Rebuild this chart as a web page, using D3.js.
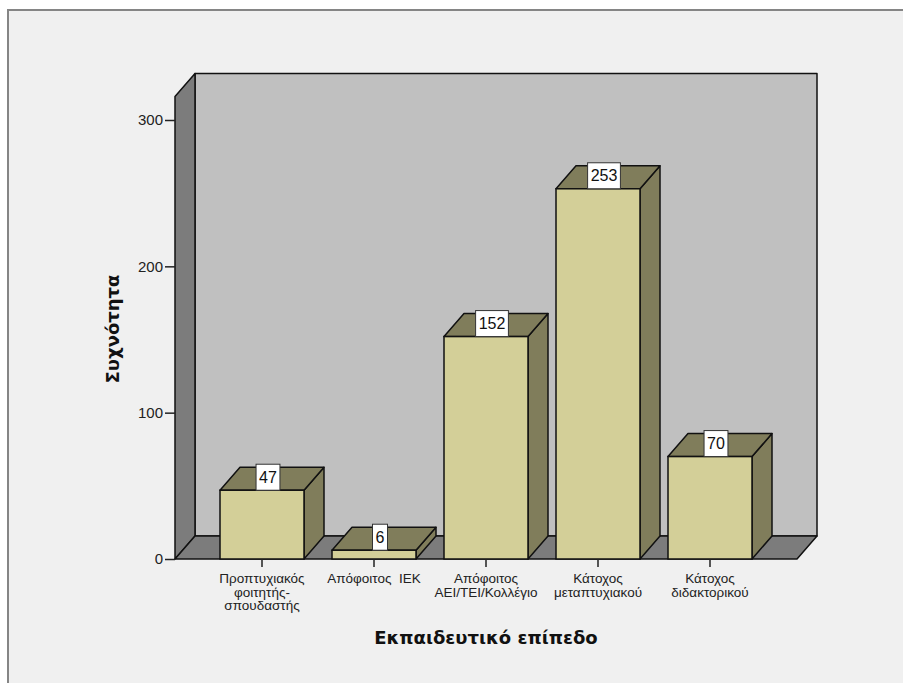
<!DOCTYPE html>
<html>
<head>
<meta charset="utf-8">
<script src="https://cdn.jsdelivr.net/npm/d3@7"></script>
<style>
  html, body { margin: 0; padding: 0; background: #ffffff; }
  svg { display: block; }
  text { font-family: "Liberation Sans", Arial, sans-serif; }
  text.title { font-family: "DejaVu Sans", Verdana, sans-serif; font-weight: bold; }
</style>
</head>
<body>
<div id="chart"></div>
<script>
// Education level frequencies
const categories = [
  ["Προπτυχιακός", "φοιτητής-", "σπουδαστής"],
  ["Απόφοιτος  ΙΕΚ"],
  ["Απόφοιτος", "ΑΕΙ/ΤΕΙ/Κολλέγιο"],
  ["Κάτοχος", "μεταπτυχιακού"],
  ["Κάτοχος", "διδακτορικού"]
];
const values = [47, 6, 152, 253, 70];
const yTicks = [0, 100, 200, 300];
const yTitle = "Συχνότητα";
const xTitle = "Εκπαιδευτικό επίπεδο";

const W = 903, H = 683;
const svg = d3.select("#chart").append("svg")
  .attr("width", W).attr("height", H);

// panel background with its border
svg.append("rect")
  .attr("x", 8).attr("y", 10).attr("width", W + 20).attr("height", H + 20)
  .attr("fill", "#f0f0f0").attr("stroke", "#858585").attr("stroke-width", 2);

// 3D frame geometry
const x0 = 175, x1 = 797;        // front plane left/right
const dx = 20, dy = -23;          // depth offset
const wallTopValue = 316;

const y = d3.scaleLinear().domain([0, 300]).range([559, 120]);
const x = d3.scaleBand()
  .domain(d3.range(categories.length))
  .range([206, 766])
  .paddingInner(0.25)
  .paddingOuter(0.125);

const line = d3.line();
const stroke = "#111";

// back wall
svg.append("path")
  .attr("d", line([[x0 + dx, y(wallTopValue) + dy], [x1 + dx, y(wallTopValue) + dy],
                   [x1 + dx, y(0) + dy], [x0 + dx, y(0) + dy]]) + "Z")
  .attr("fill", "#c0c0c0").attr("stroke", stroke).attr("stroke-width", 1.5)
  .attr("stroke-linejoin", "round");

// left side wall
svg.append("path")
  .attr("d", line([[x0, y(0)], [x0, y(wallTopValue)], [x0 + dx, y(wallTopValue) + dy],
                   [x0 + dx, y(0) + dy]]) + "Z")
  .attr("fill", "#7c7c7c").attr("stroke", stroke).attr("stroke-width", 1.5)
  .attr("stroke-linejoin", "round");

// floor
svg.append("path")
  .attr("d", line([[x0, y(0)], [x1, y(0)], [x1 + dx, y(0) + dy], [x0 + dx, y(0) + dy]]) + "Z")
  .attr("fill", "#7c7c7c").attr("stroke", stroke).attr("stroke-width", 1.5)
  .attr("stroke-linejoin", "round");

// y axis
const yAxis = d3.axisLeft(y).tickValues(yTicks).tickSize(10).tickPadding(2).tickSizeOuter(0);
const ya = svg.append("g").attr("transform", `translate(${x0},0)`).call(yAxis);
ya.select(".domain").remove();
ya.selectAll(".tick line").attr("stroke", "#222").attr("stroke-width", 1.5);
ya.selectAll(".tick text").attr("font-size", 15).attr("fill", "#222")
  .attr("font-family", "Liberation Sans, Arial, sans-serif");

// bars
const bars = svg.append("g").selectAll("g").data(values).join("g");
const frontFill = "#d3cf98", darkFill = "#807d5b";

bars.append("path") // side face
  .attr("d", (d, i) => {
    const r = x(i) + x.bandwidth();
    return line([[r, y(0)], [r, y(d)], [r + dx, y(d) + dy], [r + dx, y(0) + dy]]) + "Z";
  })
  .attr("fill", darkFill).attr("stroke", stroke).attr("stroke-width", 1.5)
  .attr("stroke-linejoin", "round");

bars.append("path") // top face
  .attr("d", (d, i) => {
    const l = x(i), r = x(i) + x.bandwidth();
    return line([[l, y(d)], [r, y(d)], [r + dx, y(d) + dy], [l + dx, y(d) + dy]]) + "Z";
  })
  .attr("fill", darkFill).attr("stroke", stroke).attr("stroke-width", 1.5)
  .attr("stroke-linejoin", "round");

bars.append("rect") // front face
  .attr("x", (d, i) => x(i))
  .attr("y", d => y(d))
  .attr("width", x.bandwidth())
  .attr("height", d => y(0) - y(d))
  .attr("fill", frontFill).attr("stroke", stroke).attr("stroke-width", 1.5);

// value labels in white boxes on the top face
bars.each(function (d, i) {
  const g = d3.select(this);
  const cx = x(i) + x.bandwidth() / 2 + 6;
  const cy = y(d) - 13;
  const t = g.append("text")
    .attr("x", cx).attr("y", cy + 5.5)
    .attr("text-anchor", "middle")
    .attr("font-size", 16).attr("fill", "#111")
    .text(d);
  const bb = t.node().getBBox();
  g.insert("rect", "text")
    .attr("x", cx - bb.width / 2 - 3).attr("y", cy - 13)
    .attr("width", bb.width + 6).attr("height", 26)
    .attr("fill", "#ffffff").attr("stroke", "#333").attr("stroke-width", 1);
});

// x axis ticks and category labels
const xa = svg.append("g");
categories.forEach((lines, i) => {
  const cx = x(i) + x.bandwidth() / 2;
  xa.append("line")
    .attr("x1", cx).attr("x2", cx).attr("y1", y(0)).attr("y2", y(0) + 8)
    .attr("stroke", "#222").attr("stroke-width", 1.5);
  const t = xa.append("text")
    .attr("text-anchor", "middle").attr("font-size", 13.5).attr("fill", "#222");
  lines.forEach((s, k) => {
    t.append("tspan").attr("x", cx).attr("y", 583 + k * 13.5)
      .attr("xml:space", "preserve").text(s);
  });
});

// axis titles
svg.append("text")
  .attr("class", "title")
  .attr("transform", "translate(119,329) rotate(-90)")
  .attr("text-anchor", "middle")
  .attr("font-size", 18).attr("fill", "#111")
  .text(yTitle);

svg.append("text")
  .attr("class", "title")
  .attr("x", 486).attr("y", 644)
  .attr("text-anchor", "middle")
  .attr("font-size", 18).attr("fill", "#111")
  .text(xTitle);
</script>
</body>
</html>
